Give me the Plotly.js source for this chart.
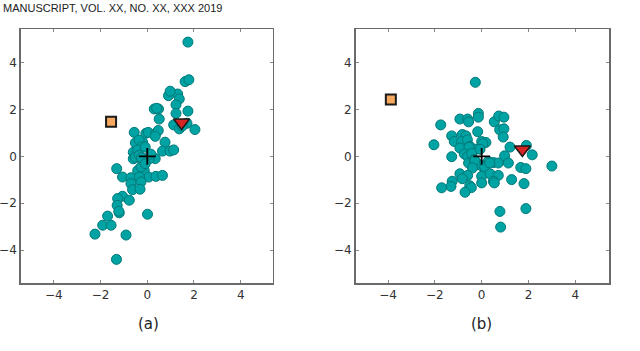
<!DOCTYPE html>
<html>
<head>
<meta charset="utf-8">
<script src="https://cdn.plot.ly/plotly-3.0.1.min.js"></script>
<style>
  body { margin: 0; background: #fff; }
  #chart { width: 640px; height: 351px; }
</style>
</head>
<body>
<div id="chart"></div>
<script>
// panel (a) samples
const aX = [1.74, 1.62, 1.78, 0.91, 1.30, 1.37, 1.23, 0.98, 0.30, 0.48, 0.40, 0.51,
    1.23, 1.74, 1.13, 1.37, 1.70, 2.04, 1.50, -0.56, -0.06, 0.04, 0.37, 0.47, 0.34,
    -0.51, -0.20, -0.35, 0.76, -0.60, -0.27, -0.41, -0.09, 0.65, 0.97, 1.13,
    -0.56, 0.34, -0.15, -0.60, -0.51, 0.09, -0.20, -0.35, 0.15, -0.25, -1.31,
    -0.41, -0.13, -0.27, -0.09, -1.06, -0.70, -0.27, 0.06, 0.37, 0.65, -0.34,
    -0.70, -0.27, -0.63, -0.31, -1.06, -1.27, -0.77, -1.29, -1.20, -1.22, 0.01,
    -1.70, -1.91, -1.55, -2.24, -0.91, -1.32];
const aY = [4.89, 3.20, 3.28, 2.60, 2.67, 2.46, 2.21, 2.79, 2.03, 2.03, 2.06, 1.60,
    1.84, 1.94, 1.35, 1.18, 1.42, 1.15, 1.30, 1.03, 0.99, 1.03, 0.99, 1.11, 0.86,
    0.58, 0.61, 0.70, 0.61, 0.18, 0.40, 0.28, 0.40, 0.23, 0.23, 0.28,
    -0.07, -0.09, -0.20, -0.10, -0.03, -0.10, -0.17, 0.05, 0.10, -0.05, -0.52,
    -0.60, -0.60, -0.45, -0.31, -0.88, -0.91, -0.95, -0.88, -0.85, -0.81, -0.88,
    -1.16, -1.09, -1.42, -1.40, -1.70, -1.80, -1.87, -2.09, -2.41, -2.34, -2.47,
    -2.55, -2.94, -2.94, -3.32, -3.36, -4.40];

// panel (b) samples
const bX = [-0.27, -0.14, -0.14, -1.75, -0.93, -0.60, -0.56, 0.54, 0.73, 0.95,
    0.77, 0.95, 0.92, -0.17, -1.28, -1.17, -0.83, -0.67, -0.86, -0.61, -2.04,
    0.00, 0.18, 0.05, -0.93, -0.50, -0.24, -0.07, -0.54, 1.21, 1.91, 2.16, 0.98,
    -1.28, -0.74, -0.60, -0.43, -0.56, -0.33, -0.10, 0.28, 0.50, 0.71, 1.14, 0.00,
    -0.29, -0.39, 0.13, 0.35, 1.67, 1.89, 3.00, -0.93, -0.60, -0.83, 0.00, 0.36,
    0.71, 1.28, 0.00, 0.50, 0.54, -1.26, -1.31, -1.71, -0.51, -0.44, 1.81, -0.71,
    0.78, 1.89, 0.81];
const bY = [3.17, 1.84, 1.68, 1.35, 1.60, 1.60, 1.48, 1.48, 1.73, 1.68,
    1.14, 1.18, 0.83, 1.06, 0.88, 0.64, 0.94, 0.88, 0.64, 0.71, 0.50,
    0.64, 0.60, 0.55, 0.36, 0.43, 0.31, 0.31, 0.40, 0.40, 0.47, 0.07, 0.03,
    -0.01, 0.11, 0.00, 0.12, -0.28, -0.14, -0.35, -0.21, -0.26, -0.28, -0.28, -0.40,
    -0.17, -0.49, -0.45, -0.28, -0.47, -0.52, -0.41, -0.74, -0.81, -0.95, -0.85, -0.74,
    -0.81, -0.99, -1.13, -1.06, -1.13, -1.06, -1.28, -1.34, -1.25, -1.33, -1.16, -1.53,
    -2.35, -2.23, -3.02];

// special points: [x, y] for square, triangle, centre cross
const aSquare = [-1.55, 1.48];
const aTriangle = [1.47, 1.45];
const bSquare = [-3.88, 2.44];
const bTriangle = [1.74, 0.30];
const centre = [0, 0];

const panelLabels = ['(a)', '(b)'];
const tickVals = [-4, -2, 0, 2, 4];

const dotStyle = { size: 10, color: '#00a3a3', line: { color: '#007878', width: 1 } };

function panelTraces(xs, ys, sq, tri, xa, ya) {
    return [
        { x: xs, y: ys, xaxis: xa, yaxis: ya, type: 'scatter', mode: 'markers',
          marker: dotStyle, hoverinfo: 'skip' },
        { x: [centre[0]], y: [centre[1]], xaxis: xa, yaxis: ya, type: 'scatter', mode: 'markers',
          marker: { symbol: 'cross-thin', size: 12, line: { color: '#000', width: 1.8 } } },
        { x: [sq[0]], y: [sq[1]], xaxis: xa, yaxis: ya, type: 'scatter', mode: 'markers',
          marker: { symbol: 'square', size: 10, color: '#f6a85e', line: { color: '#1a1a1a', width: 2 } } },
        { x: [tri[0]], y: [tri[1]], xaxis: xa, yaxis: ya, type: 'scatter', mode: 'markers',
          marker: { symbol: 'triangle-down', size: 14, color: '#d62323', line: { color: '#1a1a1a', width: 1.5 } } }
    ];
}

const traces = panelTraces(aX, aY, aSquare, aTriangle, 'x', 'y')
    .concat(panelTraces(bX, bY, bSquare, bTriangle, 'x2', 'y2'));

function axis(domain, range, anchor) {
    return {
        domain: domain, range: range, anchor: anchor,
        tickvals: tickVals, ticks: 'inside', ticklen: 3, tickcolor: '#888',
        showline: true, linecolor: '#6a6a6a', linewidth: 1.5, mirror: 'allticks',
        showgrid: false, zeroline: false,
        tickfont: { family: 'DejaVu Sans, sans-serif', size: 12, color: '#333' }
    };
}

const yDom = [(351 - 283) / 351, (351 - 29) / 351];

const layout = {
    width: 640, height: 351,
    margin: { l: 0, r: 0, t: 0, b: 0 },
    paper_bgcolor: '#fff', plot_bgcolor: '#fff',
    showlegend: false,
    xaxis: axis([20.7 / 640, 272.7 / 640], [-5.42, 5.37], 'y'),
    yaxis: axis(yDom, [-5.41, 5.45], 'x'),
    xaxis2: axis([355.5 / 640, 609 / 640], [-5.39, 5.44], 'y2'),
    yaxis2: axis(yDom, [-5.41, 5.45], 'x2'),
    annotations: [
        { text: 'MANUSCRIPT, VOL. XX, NO. XX, XXX 2019', xref: 'paper', yref: 'paper',
          x: 0.002, y: 1, xanchor: 'left', yanchor: 'top', showarrow: false,
          font: { family: 'Liberation Sans, Arial, sans-serif', size: 11, color: '#222' } },
        { text: panelLabels[0], xref: 'paper', yref: 'paper', x: 148 / 640, y: 1 - 324 / 351,
          xanchor: 'center', yanchor: 'middle', showarrow: false,
          font: { family: 'DejaVu Sans, sans-serif', size: 15, color: '#222' } },
        { text: panelLabels[1], xref: 'paper', yref: 'paper', x: 481 / 640, y: 1 - 324 / 351,
          xanchor: 'center', yanchor: 'middle', showarrow: false,
          font: { family: 'DejaVu Sans, sans-serif', size: 15, color: '#222' } }
    ]
};

Plotly.newPlot('chart', traces, layout, { displayModeBar: false, staticPlot: true });
</script>
</body>
</html>
